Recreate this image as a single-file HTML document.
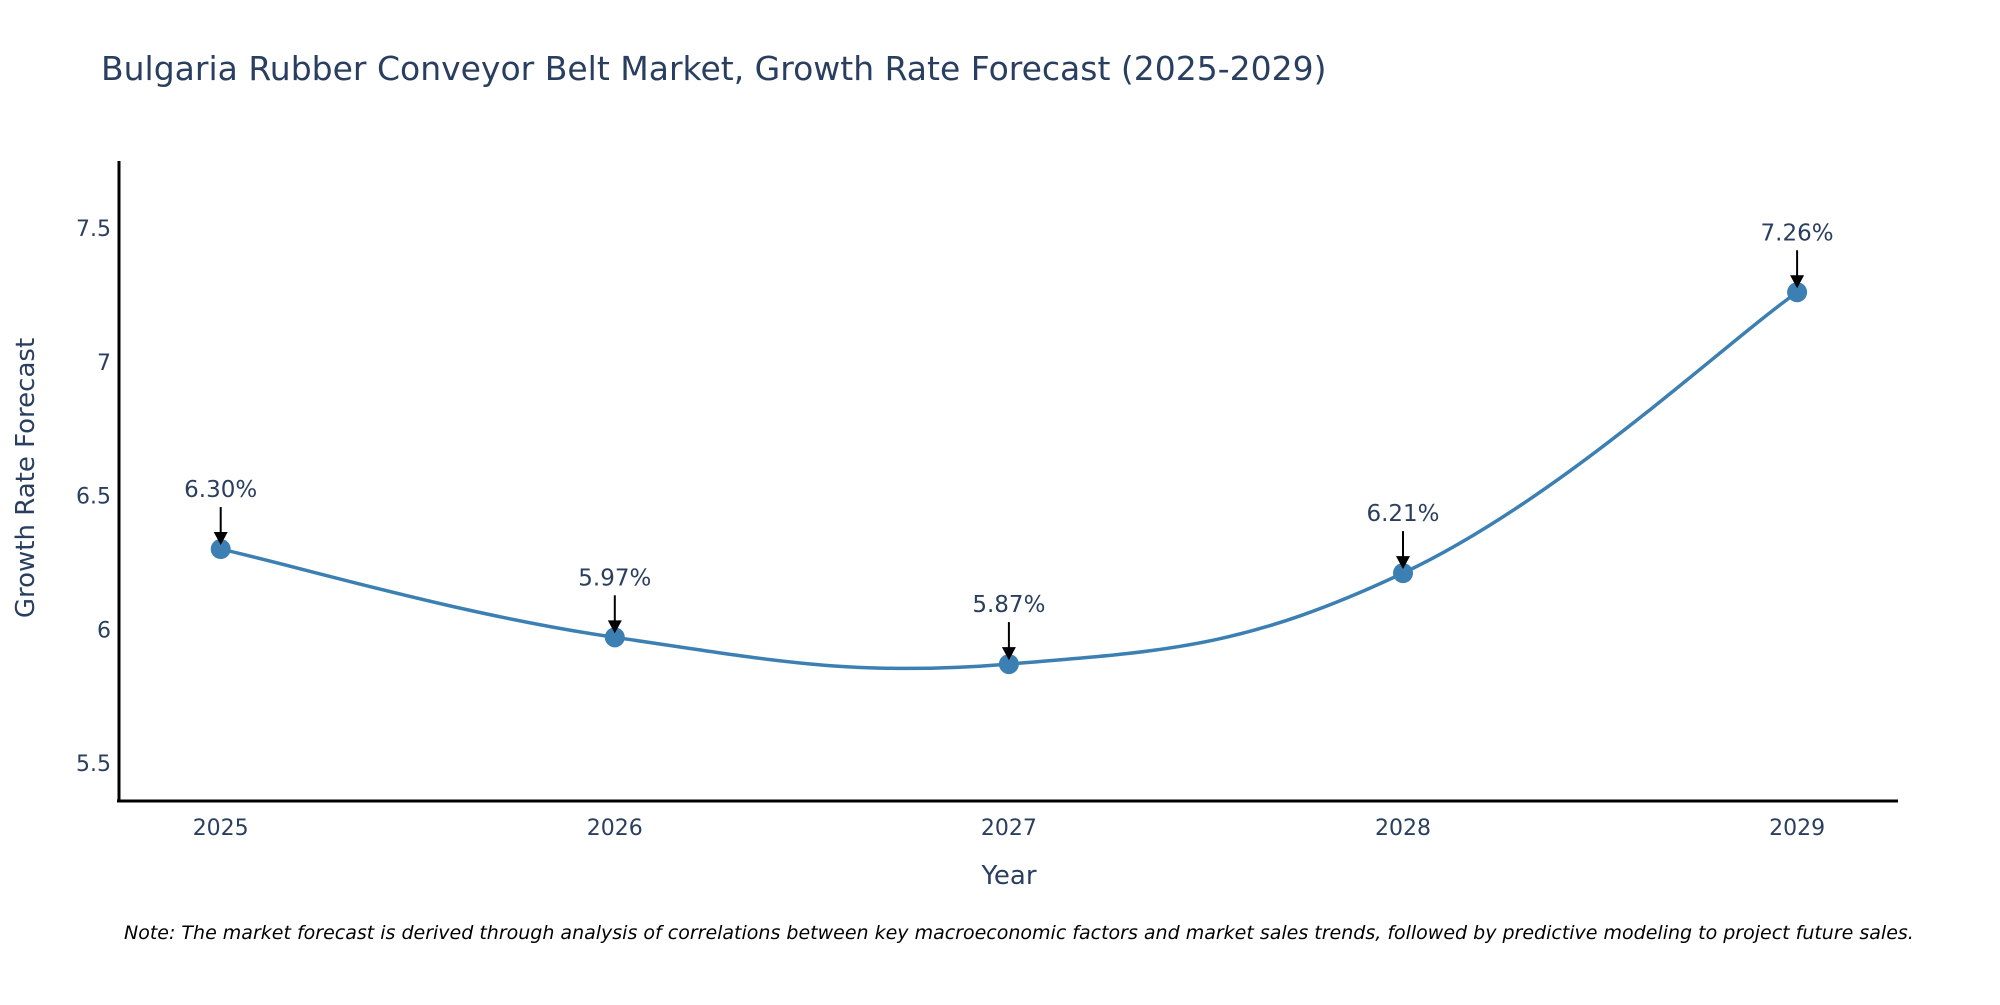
<!DOCTYPE html>
<html><head><meta charset="utf-8"><style>
html,body{margin:0;padding:0;background:#fff;}
svg text{font-family:"DejaVu Sans","Liberation Sans",sans-serif;}
</style></head><body>
<svg id="chart" width="2000" height="1000" viewBox="0 0 2000 1000" xmlns="http://www.w3.org/2000/svg">
<text x="101" y="80" font-size="33" fill="#2a3f5f">Bulgaria Rubber Conveyor Belt Market, Growth Rate Forecast (2025-2029)</text>
<g id="yticks"></g><g id="xticks"></g>
<line x1="119" y1="161" x2="119" y2="802" stroke="#000" stroke-width="3"/>
<line x1="117" y1="801" x2="1898" y2="801" stroke="#000" stroke-width="3"/>
<text transform="translate(34,478) rotate(-90)" text-anchor="middle" font-size="26" fill="#2a3f5f">Growth Rate Forecast</text>
<text x="1009" y="884" text-anchor="middle" font-size="26" fill="#2a3f5f">Year</text>
<g id="series"></g>
<text x="124" y="939" font-size="19" font-style="italic" fill="#000">Note: The market forecast is derived through analysis of correlations between key macroeconomic factors and market sales trends, followed by predictive modeling to project future sales.</text>
</svg>
<script>
const years = [2025, 2026, 2027, 2028, 2029];
const growth = [6.30, 5.97, 5.87, 6.21, 7.26];
const valueLabels = ["6.30%", "5.97%", "5.87%", "6.21%", "7.26%"];
const yTickValues = [5.5, 6, 6.5, 7, 7.5];
const yTickLabels = ["5.5", "6", "6.5", "7", "7.5"];

const NS = "http://www.w3.org/2000/svg";
function xs(v){ return 220.7 + (v - 2025) * 394.1; }
function ys(v){ return 629.3 - (v - 6) * 267.5; }
function mk(tag, attrs, parent){ const e = document.createElementNS(NS, tag); for (const k in attrs) e.setAttribute(k, attrs[k]); parent.appendChild(e); return e; }

const yt = document.getElementById('yticks');
yTickValues.forEach((v,i)=>{
  const t = mk('text', {x:111, y:ys(v)+8, 'text-anchor':'end', 'font-size':22, fill:'#2a3f5f'}, yt);
  
  
  t.textContent = yTickLabels[i];
});
const xt = document.getElementById('xticks');
years.forEach(y=>{
  const t = mk('text', {x:xs(y), y:835, 'text-anchor':'middle', 'font-size':22, fill:'#2a3f5f'}, xt);
  
  
  t.textContent = String(y);
});

const g = document.getElementById('series');
const pts = years.map((y,i)=>[xs(y), ys(growth[i])]);
let d = `M${pts[0][0]},${pts[0][1]}`;
const k = 0.2;
for (let i=0;i<pts.length-1;i++){
  const p0 = pts[i-1]||pts[i], p1=pts[i], p2=pts[i+1], p3=pts[i+2]||pts[i+1];
  const c1=[p1[0]+(p2[0]-p0[0])*k, p1[1]+(p2[1]-p0[1])*k];
  const c2=[p2[0]-(p3[0]-p1[0])*k, p2[1]-(p3[1]-p1[1])*k];
  d += ` C${c1[0]},${c1[1]} ${c2[0]},${c2[1]} ${p2[0]},${p2[1]}`;
}
const line = mk('path', {d:d, fill:'none', stroke:'#3c80b3', 'stroke-width':3.5}, g);


pts.forEach((p,i)=>{
  const c = mk('circle', {cx:p[0], cy:p[1], r:10, fill:'#3c80b3'}, g);
  
  
  const a = mk('line', {x1:p[0], y1:p[1]-42, x2:p[0], y2:p[1]-16, stroke:'#000', 'stroke-width':2}, g);
  
  
  const h = mk('polygon', {points:`${p[0]-7},${p[1]-17} ${p[0]+7},${p[1]-17} ${p[0]},${p[1]-4}`, fill:'#000'}, g);
  
  
  const t = mk('text', {x:p[0], y:p[1]-52, 'text-anchor':'middle', 'font-size':23, fill:'#2a3f5f'}, g);
  
  
  t.textContent = valueLabels[i];
});
</script>
</body></html>
